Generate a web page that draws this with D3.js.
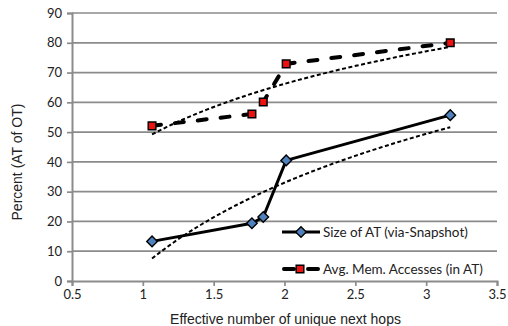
<!DOCTYPE html>
<html>
<head>
<meta charset="utf-8">
<script src="https://cdn.jsdelivr.net/npm/d3@7"></script>
<style>
  html, body { margin: 0; padding: 0; background: #fff; }
  svg { display: block; }
</style>
</head>
<body>
<svg id="chart" width="508" height="326"></svg>
<script>
// Effective number of unique next hops (x) for each table
const nextHops = [1.065, 1.77, 1.85, 2.012, 3.17];
// Size of AT relative to OT, percent
const sizeAT = [13.3, 19.4, 21.5, 40.5, 55.7];
// Average memory accesses in AT relative to OT, percent
const memAccess = [52.1, 56.1, 60.1, 72.9, 80.0];

const seriesNames = ["Size of AT (via-Snapshot)", "Avg. Mem. Accesses (in AT)"];
const xTicks = [0.5, 1, 1.5, 2, 2.5, 3, 3.5];
const yTicks = [0, 10, 20, 30, 40, 50, 60, 70, 80, 90];

const W = 508, H = 326;
const plot = { left: 72, right: 497, top: 13, bottom: 281 };

const svg = d3.select("#chart");
const x = d3.scaleLinear().domain([0.5, 3.5]).range([plot.left, plot.right]);
const y = d3.scaleLinear().domain([0, 90]).range([plot.bottom, plot.top]);

const gridColor = "#8b8b8b";
const tickFont = "Lato, 'Open Sans', sans-serif";
const titleFont = "'Liberation Sans', Arial, sans-serif";

// horizontal gridlines
svg.append("g")
  .selectAll("line")
  .data(yTicks.filter(d => d > 0))
  .join("line")
  .attr("x1", plot.left).attr("x2", plot.right)
  .attr("y1", d => y(d)).attr("y2", d => y(d))
  .attr("stroke", gridColor).attr("stroke-width", 1.7);

// y axis
const yAxis = svg.append("g")
  .attr("transform", `translate(${plot.left},0)`)
  .call(d3.axisLeft(y).tickValues(yTicks).tickSize(5).tickPadding(5).tickFormat(d3.format("d")));
// x axis
const xAxis = svg.append("g")
  .attr("transform", `translate(0,${plot.bottom})`)
  .call(d3.axisBottom(x).tickValues(xTicks).tickSize(5).tickPadding(4).tickFormat(d3.format("~g")));

[yAxis, xAxis].forEach(g => {
  g.select(".domain").attr("stroke", gridColor).attr("stroke-width", 2);
  g.selectAll(".tick line").attr("stroke", gridColor).attr("stroke-width", 1.7);
  g.selectAll(".tick text")
    .attr("fill", "#222")
    .style("font-family", tickFont)
    .style("font-size", "13px");
});

// axis titles
svg.append("text")
  .attr("x", (plot.left + plot.right) / 2 + 1)
  .attr("y", 324)
  .attr("text-anchor", "middle")
  .style("font-family", titleFont)
  .style("font-size", "14px")
  .attr("fill", "#222")
  .text("Effective number of unique next hops");

svg.append("text")
  .attr("transform", `translate(22,${(plot.top + plot.bottom) / 2 + 15}) rotate(-90)`)
  .attr("text-anchor", "middle")
  .style("font-family", titleFont)
  .style("font-size", "14px")
  .attr("fill", "#222")
  .text("Percent (AT of OT)");

// logarithmic least-squares trend: y = a + b ln(x)
function logFit(xs, ys) {
  const lx = xs.map(Math.log);
  const mx = d3.mean(lx), my = d3.mean(ys);
  const b = d3.sum(lx, (v, i) => (v - mx) * (ys[i] - my)) / d3.sum(lx, v => (v - mx) ** 2);
  const a = my - b * mx;
  return v => a + b * Math.log(v);
}

const lineGen = d3.line().x(d => x(d[0])).y(d => y(d[1]));

function trendPath(xs, ys) {
  const f = logFit(xs, ys);
  const lo = d3.min(xs), hi = d3.max(xs);
  const pts = d3.range(0, 61).map(i => {
    const v = lo + (hi - lo) * i / 60;
    return [v, f(v)];
  });
  svg.append("path")
    .attr("d", lineGen(pts))
    .attr("fill", "none")
    .attr("stroke", "#000")
    .attr("stroke-width", 2)
    .attr("stroke-dasharray", "4,2.5");
}
trendPath(nextHops, memAccess);
trendPath(nextHops, sizeAT);

const sizePts = nextHops.map((v, i) => [v, sizeAT[i]]);
const memPts = nextHops.map((v, i) => [v, memAccess[i]]);

// series lines
svg.append("path")
  .attr("d", lineGen(sizePts))
  .attr("fill", "none").attr("stroke", "#000")
  .attr("stroke-width", 3).attr("stroke-linejoin", "round");

svg.append("path")
  .attr("d", lineGen(memPts))
  .attr("fill", "none").attr("stroke", "#000")
  .attr("stroke-width", 4).attr("stroke-linecap", "round")
  .attr("stroke-dasharray", "9,14");

// markers
const diamond = r => `M0,${-r}L${r},0L0,${r}L${-r},0Z`;
const square = s => `M${-s},${-s}H${s}V${s}H${-s}Z`;

function drawDiamond(g, cx, cy) {
  g.append("path").attr("d", diamond(5.3))
    .attr("transform", `translate(${cx},${cy})`)
    .attr("fill", "#4f81bd").attr("stroke", "#000").attr("stroke-width", 1.4);
}
function drawSquare(g, cx, cy) {
  g.append("path").attr("d", square(3.8))
    .attr("transform", `translate(${cx},${cy})`)
    .attr("fill", "#ee1111").attr("stroke", "#000").attr("stroke-width", 1.5);
}

const markers = svg.append("g");
sizePts.forEach(d => drawDiamond(markers, x(d[0]), y(d[1])));
memPts.forEach(d => drawSquare(markers, x(d[0]), y(d[1])));

// legend
const legend = svg.append("g");
const legX0 = 282, legX1 = 320, legTextX = 323;
const legY = [232, 269];

legend.append("line")
  .attr("x1", legX0).attr("x2", legX1).attr("y1", legY[0]).attr("y2", legY[0])
  .attr("stroke", "#000").attr("stroke-width", 3);
drawDiamond(legend, (legX0 + legX1) / 2, legY[0]);

legend.append("line")
  .attr("x1", legX0 + 2).attr("x2", legX1 - 2).attr("y1", legY[1]).attr("y2", legY[1])
  .attr("stroke", "#000").attr("stroke-width", 4).attr("stroke-linecap", "round")
  .attr("stroke-dasharray", "10,14");
drawSquare(legend, (legX0 + legX1) / 2 - 1, legY[1]);

seriesNames.forEach((name, i) => {
  legend.append("text")
    .attr("x", legTextX).attr("y", legY[i])
    .attr("dy", "0.35em")
    .style("font-family", tickFont)
    .style("font-size", "13.5px")
    .attr("fill", "#222")
    .text(name);
});
</script>
</body>
</html>
